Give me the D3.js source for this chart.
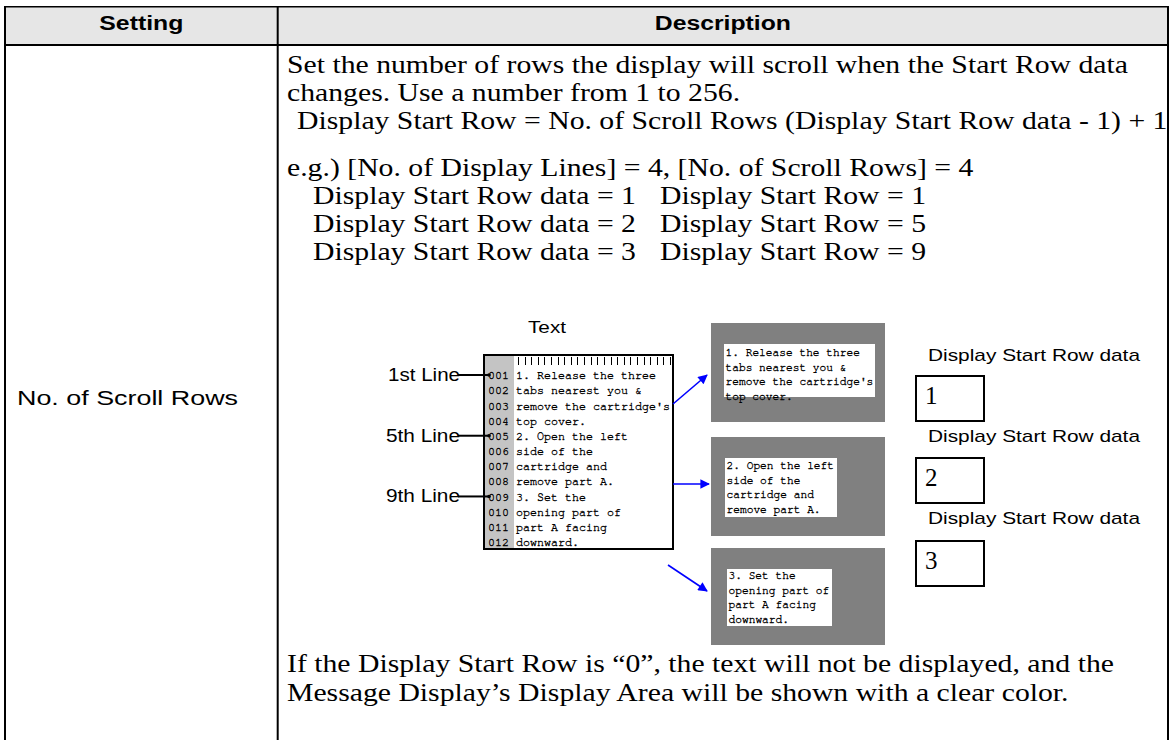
<!DOCTYPE html>
<html><head><meta charset="utf-8">
<script src="https://cdn.jsdelivr.net/npm/d3@7"></script>
<style>body{margin:0;background:#fff}</style>
</head><body><svg id="c" width="1174" height="740"></svg>
<script>
// ---------- content ----------
const headers = ["Setting", "Description"];
const settingName = "No. of Scroll Rows";
const introLines = [
  "Set the number of rows the display will scroll when the Start Row data",
  "changes. Use a number from 1 to 256."
];
const formulaLine = "Display Start Row = No. of Scroll Rows (Display Start Row data - 1) + 1";
const exampleLine = "e.g.) [No. of Display Lines] = 4, [No. of Scroll Rows] = 4";
const startRowData = [1, 2, 3];
const startRowValues = [1, 5, 9];
const noteLines = [
  "If the Display Start Row is \u201C0\u201D, the text will not be displayed, and the",
  "Message Display\u2019s Display Area will be shown with a clear color."
];
const textTitle = "Text";
const textRows = [
  "1. Release the three", "tabs nearest you &", "remove the cartridge's", "top cover.",
  "2. Open the left", "side of the", "cartridge and", "remove part A.",
  "3. Set the", "opening part of", "part A facing", "downward."
];
const lineLabels = ["1st Line", "5th Line", "9th Line"];
const lineLabelRows = [1, 5, 9];
const panelTexts = [
  ["1. Release the three", "tabs nearest you &", "remove the cartridge's", "top cover."],
  ["2. Open the left", "side of the", "cartridge and", "remove part A."],
  ["3. Set the", "opening part of", "part A facing", "downward."]
];
const dataLabel = "Display Start Row data";

// ---------- font selection ----------
function pick(cands, generic) {
  const c = document.createElement("canvas").getContext("2d");
  const s = "mmmmmmmmmlli WWW 0123 abcdefghijklmnop";
  for (const f of cands) {
    for (const g of ["monospace", "serif", "sans-serif"]) {
      c.font = "40px " + g; const w0 = c.measureText(s).width;
      c.font = '40px "' + f + '", ' + g; const w1 = c.measureText(s).width;
      if (Math.abs(w1 - w0) > 0.5) return '"' + f + '", ' + generic;
    }
  }
  return generic;
}
const SERIF = pick(["Liberation Serif", "Times New Roman", "Tinos", "Times", "DejaVu Serif"], "serif");
const SANS = pick(["Liberation Sans", "Arial", "Arimo", "Helvetica", "DejaVu Sans"], "sans-serif");
const MONO = pick(["Nimbus Mono PS", "Nimbus Mono L", "FreeMono", "Courier 10 Pitch", "Liberation Mono", "Courier New", "DejaVu Sans Mono"], "monospace");

const svg = d3.select("#c");

function fitWidth(sel, w) {
  sel.attr("textLength", w).attr("lengthAdjust", "spacingAndGlyphs");
}
function stretch(sel, sx) {
  sel.each(function () {
    const n = this.getComputedTextLength();
    d3.select(this).attr("textLength", n * sx).attr("lengthAdjust", "spacingAndGlyphs");
  });
}

// ---------- table frame ----------
const T = { x0: 5, x1: 1168, y0: 6.75, yh: 45, xc: 277.7, yb: 740 };
svg.append("rect").attr("x", T.x0).attr("y", T.y0).attr("width", T.x1 - T.x0).attr("height", T.yh - T.y0)
  .attr("fill", "#e6e6e6");
const frame = svg.append("g").attr("stroke", "#000");
frame.append("line").attr("x1", T.x0 - 1).attr("x2", T.x1 + 1).attr("y1", T.y0).attr("y2", T.y0).attr("stroke-width", 1.5);
frame.append("line").attr("x1", T.x0).attr("x2", T.x1).attr("y1", T.yh).attr("y2", T.yh).attr("stroke-width", 2);
frame.append("line").attr("x1", T.x0).attr("x2", T.x0).attr("y1", T.y0).attr("y2", T.yb).attr("stroke-width", 2);
frame.append("line").attr("x1", T.x1).attr("x2", T.x1).attr("y1", T.y0).attr("y2", T.yb).attr("stroke-width", 2);
frame.append("line").attr("x1", T.xc).attr("x2", T.xc).attr("y1", T.y0).attr("y2", T.yb).attr("stroke-width", 2);

// header texts
const colCenters = [(T.x0 + T.xc) / 2, (T.xc + T.x1) / 2];
const hdrW = [84, 136];
svg.selectAll("text.hdr").data(headers).join("text").attr("class", "hdr")
  .attr("x", (d, i) => colCenters[i] - hdrW[i] / 2).attr("y", 29.5)
  .attr("font-family", SANS).attr("font-weight", "bold")
  .attr("font-size", 20).attr("fill", "#000").text(d => d)
  .attr("textLength", (d, i) => hdrW[i]).attr("lengthAdjust", "spacingAndGlyphs");

// setting cell
const st = svg.append("text").attr("x", 17).attr("y", 405).attr("font-family", SANS)
  .attr("font-size", 20.5).text(settingName);
fitWidth(st, 221);

// ---------- description text (serif) ----------
const SERIF_SIZE = 25.5;
const probe = svg.append("text").attr("font-family", SERIF).attr("font-size", SERIF_SIZE).text(introLines[0]);
const SERIF_SX = 841 / probe.node().getComputedTextLength();
probe.remove();

function serifLine(x, y, t) {
  const s = svg.append("text").attr("x", x).attr("y", y).attr("font-family", SERIF)
    .attr("font-size", SERIF_SIZE).attr("fill", "#000").text(t);
  stretch(s, SERIF_SX);
  return s;
}
introLines.forEach((t, i) => serifLine(287, 73 + i * 28, t));
serifLine(297, 129, formulaLine);
serifLine(287, 176, exampleLine);
const exY = d3.scaleLinear().domain([0, 1]).range([204, 232]);
const firstParts = startRowData.map((d, i) => serifLine(313, exY(i), "Display Start Row data = " + d));
const w1 = d3.max(firstParts, s => +s.attr("textLength"));
const x2 = 313 + w1 + 24;
startRowValues.forEach((v, i) => serifLine(x2, exY(i), "Display Start Row = " + v));
noteLines.forEach((t, i) => serifLine(287, 672 + i * 28.5, t));

// ---------- diagram: text box ----------
const box = { x0: 484, x1: 673, y0: 355, y1: 549, gutter: 514 };
const rowY = d3.scaleLinear().domain([1, 12]).range([375, 542]);

svg.append("rect").attr("x", box.x0).attr("y", box.y0).attr("width", box.x1 - box.x0).attr("height", box.y1 - box.y0)
  .attr("fill", "#fff");
svg.append("rect").attr("x", box.x0).attr("y", box.y0).attr("width", box.gutter - box.x0).attr("height", box.y1 - box.y0)
  .attr("fill", "#c4c4c4");
const ticks = d3.range(24);
const tickX = d3.scaleLinear().domain([0, 23]).range([518, 670]);
svg.append("g").selectAll("line").data(ticks).join("line")
  .attr("x1", d => Math.round(tickX(d)) + 0.5).attr("x2", d => Math.round(tickX(d)) + 0.5)
  .attr("y1", 357).attr("y2", 365).attr("stroke", "#000").attr("stroke-width", 1);
svg.append("rect").attr("x", box.x0).attr("y", box.y0).attr("width", box.x1 - box.x0).attr("height", box.y1 - box.y0)
  .attr("fill", "none").attr("stroke", "#000").attr("stroke-width", 2);

const MONO_SIZE = 12.4;
const monoInk = sel => sel.attr("fill", "#000").attr("stroke", "#000").attr("stroke-width", 0.35);
svg.append("g").selectAll("text").data(textRows).join("text")
  .attr("x", 488).attr("y", (d, i) => rowY(i + 1) + 4.2)
  .attr("font-family", MONO).attr("font-size", MONO_SIZE).call(monoInk)
  .text((d, i) => String(i + 1).padStart(3, "0"))
  .attr("textLength", 21).attr("lengthAdjust", "spacingAndGlyphs");
svg.append("g").selectAll("text").data(textRows).join("text")
  .attr("x", 516).attr("y", (d, i) => rowY(i + 1) + 4.2)
  .attr("font-family", MONO).attr("font-size", MONO_SIZE).call(monoInk)
  .text(d => d)
  .attr("textLength", d => d.length * 7.0).attr("lengthAdjust", "spacingAndGlyphs");

// title "Text"
const tt = svg.append("text").attr("x", 528).attr("y", 333).attr("font-family", SANS).attr("font-size", 17).text(textTitle);
fitWidth(tt, 38);

// line labels + connectors
const labW = [72, 74, 74];
lineLabels.forEach((lab, i) => {
  const y = rowY(lineLabelRows[i]);
  const t = svg.append("text").attr("x", 460 - labW[i]).attr("y", y + 6)
    .attr("font-family", SANS).attr("font-size", 17.5).text(lab);
  fitWidth(t, labW[i]);
  svg.append("line").attr("x1", 458).attr("x2", 489).attr("y1", y).attr("y2", y)
    .attr("stroke", "#000").attr("stroke-width", 2);
  svg.append("circle").attr("cx", 489).attr("cy", y).attr("r", 1.8).attr("fill", "#000");
});

// ---------- arrows ----------
svg.append("defs").append("marker").attr("id", "ah").attr("viewBox", "0 0 10 10")
  .attr("refX", 9).attr("refY", 5).attr("markerWidth", 6.5).attr("markerHeight", 6)
  .attr("orient", "auto").attr("markerUnits", "strokeWidth")
  .append("path").attr("d", "M0,0 L10,5 L0,10 z").attr("fill", "#0000ff");
const arrows = [
  [[673, 404], [707, 375]],
  [[673, 484], [709, 484]],
  [[668, 565], [707, 591]]
];
svg.append("g").selectAll("line").data(arrows).join("line")
  .attr("x1", d => d[0][0]).attr("y1", d => d[0][1]).attr("x2", d => d[1][0]).attr("y2", d => d[1][1])
  .attr("stroke", "#0000ff").attr("stroke-width", 1.6).attr("marker-end", "url(#ah)");

// ---------- display panels ----------
const panels = [
  { y0: 323, y1: 422, ix0: 724, ix1: 875, iy0: 344, iy1: 397, ty: 352 },
  { y0: 437, y1: 536, ix0: 725, ix1: 837, iy0: 458, iy1: 517, ty: 465 },
  { y0: 548, y1: 645, ix0: 727, ix1: 832, iy0: 569, iy1: 626, ty: 575 }
];
const PANEL_FONT = 12;
panels.forEach((p, k) => {
  svg.append("rect").attr("x", 711).attr("y", p.y0).attr("width", 885 - 711).attr("height", p.y1 - p.y0).attr("fill", "#808080");
  svg.append("rect").attr("x", p.ix0).attr("y", p.iy0).attr("width", p.ix1 - p.ix0).attr("height", p.iy1 - p.iy0).attr("fill", "#fff");
  svg.append("g").selectAll("text").data(panelTexts[k]).join("text")
    .attr("x", p.ix0 + 1.5).attr("y", (d, i) => p.ty + i * 14.6 + 4.2)
    .attr("font-family", MONO).attr("font-size", PANEL_FONT).call(monoInk).text(d => d)
    .attr("textLength", d => d.length * 6.72).attr("lengthAdjust", "spacingAndGlyphs");
});

// ---------- data boxes ----------
const dataBoxes = [
  { ly: 361, by0: 376, by1: 421, ny: 404 },
  { ly: 442, by0: 458, by1: 503, ny: 486 },
  { ly: 524, by0: 541, by1: 586, ny: 569 }
];
startRowData.forEach((d, i) => {
  const b = dataBoxes[i];
  const t = svg.append("text").attr("x", 928).attr("y", b.ly).attr("font-family", SANS).attr("font-size", 17).text(dataLabel);
  fitWidth(t, 212);
  svg.append("rect").attr("x", 916).attr("y", b.by0).attr("width", 984 - 916).attr("height", b.by1 - b.by0)
    .attr("fill", "#fff").attr("stroke", "#000").attr("stroke-width", 2);
  svg.append("text").attr("x", 925).attr("y", b.ny).attr("font-family", SERIF).attr("font-size", 25).text(d);
});
</script>
</body></html>
